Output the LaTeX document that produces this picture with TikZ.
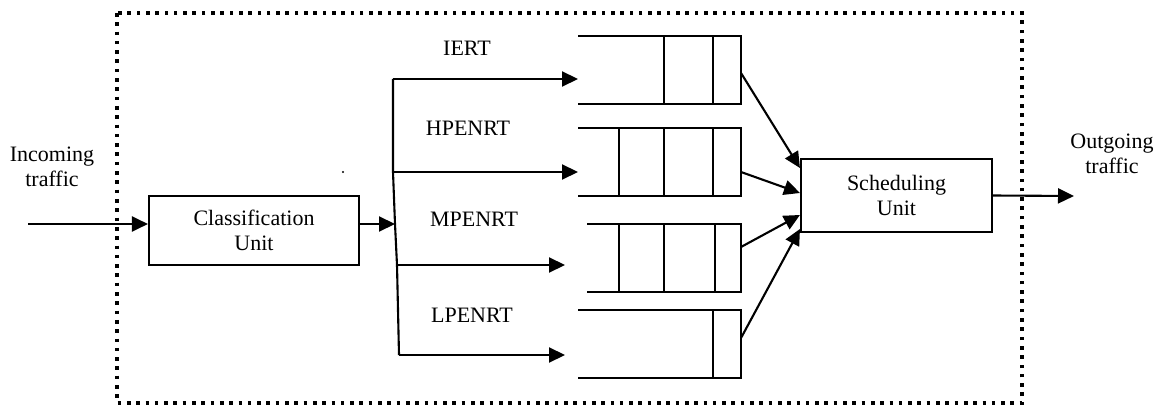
\documentclass[tikz,border=0pt]{standalone}
\usepackage{fontspec}
\setmainfont{Liberation Serif}
\usetikzlibrary{arrows.meta,calc}
\begin{document}
\begin{tikzpicture}[x=1pt,y=-1pt,
  every node/.style={font=\fontsize{22}{25}\selectfont},
  line/.style={line width=2.1pt},
  arr/.style={line width=2.1pt,-{Triangle[length=16pt,width=15pt]}},
  unitbox/.style={draw,line width=2.1pt,align=center,inner sep=0pt},
  frame/.style={line width=3.6pt,dash pattern=on 3.6pt off 5.7pt},
  lbl/.style={align=center,inner sep=0pt}]
\useasboundingbox (0,0) rectangle (1164,406);

% system boundary
\draw[frame] (117,13) rectangle (1022,403);

% processing units
\node[unitbox,minimum width=210pt,minimum height=69pt] (class) at (254,230.5) {Classification\\Unit};
\node[unitbox,minimum width=191pt,minimum height=73pt] (sched) at (896.5,195.5) {Scheduling\\Unit};

% external labels
\node[lbl] (inlbl) at (52,167) {Incoming\\traffic};
\node[lbl] (outlbl) at (1112,154) {Outgoing\\traffic};

% class labels
\node[lbl] (l1) at (467,48) {IERT};
\node[lbl] (l2) at (468,128) {HPENRT};
\node[lbl] (l3) at (474,219) {MPENRT};
\node[lbl] (l4) at (472,315) {LPENRT};

% queues (open on the left)
\draw[line] (578,36) -- (741,36) -- (741,104) -- (578,104);
\draw[line] (664,36) -- (664,104) (713,36) -- (713,104);
\draw[line] (578,128) -- (741,128) -- (741,196) -- (578,196);
\draw[line] (619,128) -- (619,196) (664,128) -- (664,196) (713,128) -- (713,196);
\draw[line] (587,224) -- (741,224) -- (741,292) -- (587,292);
\draw[line] (619,224) -- (619,292) (664,224) -- (664,292) (715,224) -- (715,292);
\draw[line] (578,310) -- (741,310) -- (741,378) -- (578,378);
\draw[line] (713,310) -- (713,378);

% connection points
\coordinate (inc) at (28,224);
\coordinate (out) at (1074,196);
\coordinate (t0) at (393,79);
\coordinate (t1) at (393,172);
\coordinate (tc) at (395,224);
\coordinate (t2) at (397,265);
\coordinate (t3) at (399,355);
\coordinate (q1in) at (578,79);
\coordinate (q2in) at (578,172);
\coordinate (q3in) at (565,265);
\coordinate (q4in) at (565,355);
\coordinate (q1out) at (741,73);
\coordinate (q2out) at (741,172);
\coordinate (q3out) at (741,247);
\coordinate (q4out) at (741,338);
\coordinate (s1) at ($(sched.west)+(0,-27.5)$);
\coordinate (s2) at ($(sched.west)+(0,-2.5)$);
\coordinate (s3) at ($(sched.west)+(0,19.5)$);
\coordinate (s4) at ($(sched.west)+(0,33.5)$);

% input and classification
\draw[arr] (inc) -- (inc -| class.west);
\draw[arr] (tc -| class.east) -- (tc);
\draw[line] (t0) -- (t1) -- (tc) -- (t2) -- (t3);

% distribution into queues
\draw[arr] (t0) -- (q1in);
\draw[arr] (t1) -- (q2in);
\draw[arr] (t2) -- (q3in);
\draw[arr] (t3) -- (q4in);

% queues into scheduler
\draw[arr] (q1out) -- (s1);
\draw[arr] (q2out) -- (s2);
\draw[arr] (q3out) -- (s3);
\draw[arr] (q4out) -- (s4);

% output
\draw[arr] (sched.east) -- (out);

% small mark
\fill (343,172) circle (1.2);
\end{tikzpicture}
\end{document}
